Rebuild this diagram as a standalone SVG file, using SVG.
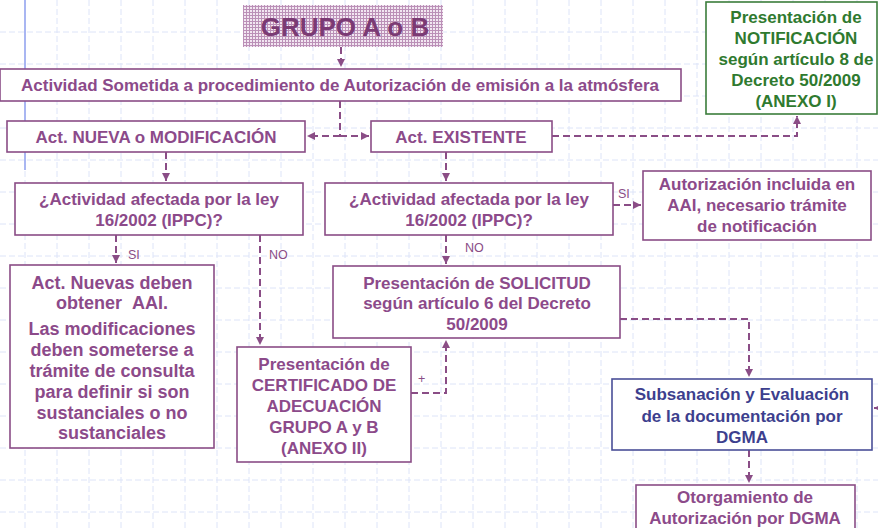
<svg xmlns="http://www.w3.org/2000/svg" width="878" height="528" viewBox="0 0 878 528">
<defs>
<style>
.grid{fill:none;stroke:#dde4f8;stroke-width:1;stroke-dasharray:6,3}
.box{fill:#fff;stroke:#8a4d86;stroke-width:1.6}
.gbox{fill:#fff;stroke:#3b7d3b;stroke-width:1.6}
.bbox{fill:#fff;stroke:#4a4f98;stroke-width:1.6}
.t{font-family:"Liberation Sans",Arial,sans-serif;font-weight:bold;font-size:17px;fill:#8c4a8a;text-anchor:middle}
.tg{fill:#2f7a2f}
.tb{fill:#3d3f8e}
.big{font-size:18px}
.conn{fill:none;stroke:#8a4d86;stroke-width:2;stroke-dasharray:7,4}
.lbl{font-family:"Liberation Sans",Arial,sans-serif;font-size:12.5px;fill:#8a4d86}
</style>
<marker id="ah" markerUnits="userSpaceOnUse" markerWidth="9" markerHeight="9" refX="8" refY="4.5" orient="auto">
<path d="M0,0.5 L8,4.5 L0,8.5 z" fill="#8a4d86"/>
</marker>
<pattern id="hatch" width="3" height="3" patternUnits="userSpaceOnUse">
<rect width="3" height="3" fill="#f2e6f1"/>
<path d="M0,0.5H3M0.5,0V3" stroke="#bb90b7" stroke-width="1"/>
</pattern>
</defs>
<g id="background">
<path class="grid" d="M0,32H878M0,64H878M0,96H878M0,128H878M0,160H878M0,192H878M0,224H878M0,256H878M0,288H878M0,320H878M0,352H878M0,384H878M0,416H878M0,448H878M0,480H878M0,512H878
M25,0V528M57,0V528M89,0V528M121,0V528M153,0V528M185,0V528M217,0V528M249,0V528M281,0V528M313,0V528M345,0V528M377,0V528M409,0V528M441,0V528M473,0V528M505,0V528M537,0V528M569,0V528M601,0V528M633,0V528M665,0V528M697,0V528M729,0V528M761,0V528M793,0V528M825,0V528M857,0V528"/>
<path d="M25,0V170" stroke="#a9b6f2" stroke-width="2"/>
</g>
<g id="connectors">
<path class="conn" d="M341,47V67" marker-end="url(#ah)"/>
<path class="conn" d="M340,101V136"/>
<path class="conn" d="M340,136H307" marker-end="url(#ah)"/>
<path class="conn" d="M340,136H369" marker-end="url(#ah)"/>
<path class="conn" d="M552,136H797V116" marker-end="url(#ah)"/>
<path class="conn" d="M166,152V181" marker-end="url(#ah)"/>
<path class="conn" d="M446,152V181" marker-end="url(#ah)"/>
<path class="conn" d="M613,205H641" marker-end="url(#ah)"/>
<path class="conn" d="M116,235V263" marker-end="url(#ah)"/>
<path class="conn" d="M260,235V345" marker-end="url(#ah)"/>
<path class="conn" d="M446,235V264" marker-end="url(#ah)"/>
<path class="conn" d="M411,393H446V340" marker-end="url(#ah)"/>
<path class="conn" d="M620,319H749V377" marker-end="url(#ah)"/>
<path class="conn" d="M890,408H874" marker-end="url(#ah)"/>
<path class="conn" d="M749,450V483" marker-end="url(#ah)"/>
<text class="lbl" x="618" y="198">SI</text>
<text class="lbl" x="128" y="259">SI</text>
<text class="lbl" x="269" y="259">NO</text>
<text class="lbl" x="465" y="252">NO</text>
<text class="lbl" x="418" y="383">+</text>
</g>
<g id="grupo">
<rect x="243" y="5" width="200" height="42" fill="url(#hatch)"/>
<text class="t" x="345" y="36" style="font-size:26px;fill:#7b3a74">GRUPO A o B</text>
</g>
<g id="actividad">
<rect class="box" x="0" y="69" width="681" height="32"/>
<text class="t" x="340" y="91">Actividad Sometida a procedimiento de Autorización de emisión a la atmósfera</text>
</g>
<g id="nueva">
<rect class="box" x="7" y="121" width="298" height="31"/>
<text class="t" x="156" y="143">Act. NUEVA o MODIFICACIÓN</text>
</g>
<g id="existente">
<rect class="box" x="371" y="121" width="181" height="31"/>
<text class="t" x="461" y="143">Act. EXISTENTE</text>
</g>
<g id="notificacion">
<rect class="gbox" x="706" y="2" width="171" height="112"/>
<text class="t tg" x="796" y="23">Presentación de</text>
<text class="t tg" x="796" y="44">NOTIFICACIÓN</text>
<text class="t tg" x="796" y="65">según artículo 8 de</text>
<text class="t tg" x="796" y="86">Decreto 50/2009</text>
<text class="t tg" x="796" y="107">(ANEXO I)</text>
</g>
<g id="pregunta1">
<rect class="box" x="15" y="183" width="288" height="52"/>
<text class="t" x="159" y="205">¿Actividad afectada por la ley</text>
<text class="t" x="159" y="226">16/2002 (IPPC)?</text>
</g>
<g id="pregunta2">
<rect class="box" x="325" y="183" width="288" height="52"/>
<text class="t" x="469" y="205">¿Actividad afectada por la ley</text>
<text class="t" x="469" y="226">16/2002 (IPPC)?</text>
</g>
<g id="autorizacion-aai">
<rect class="box" x="643" y="171" width="228" height="69"/>
<text class="t" x="757" y="190">Autorización incluida en</text>
<text class="t" x="757" y="211">AAI, necesario trámite</text>
<text class="t" x="757" y="232">de notificación</text>
</g>
<g id="nuevas-aai">
<rect class="box" x="10" y="265" width="204" height="183"/>
<text class="t big" x="112" y="289">Act. Nuevas deben</text>
<text class="t big" x="112" y="309">obtener &#160;AAI.</text>
<text class="t big" x="112" y="335">Las modificaciones</text>
<text class="t big" x="112" y="356">deben someterse a</text>
<text class="t big" x="112" y="377">trámite de consulta</text>
<text class="t big" x="112" y="398">para definir si son</text>
<text class="t big" x="112" y="419">sustanciales o no</text>
<text class="t big" x="112" y="439">sustanciales</text>
</g>
<g id="solicitud">
<rect class="box" x="333" y="266" width="287" height="72"/>
<text class="t" x="477" y="289">Presentación de SOLICITUD</text>
<text class="t" x="477" y="309">según artículo 6 del Decreto</text>
<text class="t" x="477" y="330">50/2009</text>
</g>
<g id="certificado">
<rect class="box" x="237" y="347" width="174" height="115"/>
<text class="t" x="324" y="370">Presentación de</text>
<text class="t" x="324" y="391">CERTIFICADO DE</text>
<text class="t" x="324" y="412">ADECUACIÓN</text>
<text class="t" x="324" y="433">GRUPO A y B</text>
<text class="t" x="324" y="454">(ANEXO II)</text>
</g>
<g id="subsanacion">
<rect class="bbox" x="612" y="379" width="260" height="71"/>
<text class="t tb" x="742" y="400">Subsanación y Evaluación</text>
<text class="t tb" x="742" y="422">de la documentación por</text>
<text class="t tb" x="742" y="443">DGMA</text>
</g>
<g id="otorgamiento">
<rect class="box" x="636" y="485" width="219" height="60"/>
<text class="t" x="745" y="503">Otorgamiento de</text>
<text class="t" x="745" y="524">Autorización por DGMA</text>
</g>
</svg>
